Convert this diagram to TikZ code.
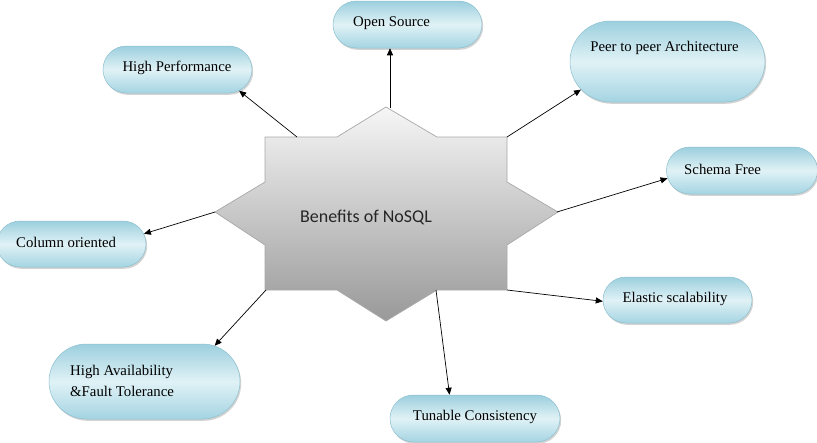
\documentclass[tikz,border=0pt]{standalone}
\usepackage{fontspec}
\setmainfont{Liberation Serif}
\newfontfamily\calibrifont{Carlito}
\usetikzlibrary{shapes.misc,shadows,arrows.meta,calc}
\definecolor{pilltop}{HTML}{9CCFDE}
\definecolor{pillmid}{HTML}{E0F2F6}
\definecolor{pillbot}{HTML}{A4D4E2}
\definecolor{pillborder}{HTML}{8CC0D0}
\definecolor{startop}{HTML}{F6F6F6}
\definecolor{starbot}{HTML}{999999}
\definecolor{starborder}{HTML}{A8A8A8}
\begin{document}
\begin{tikzpicture}[x=1pt,y=-1pt,
  pill/.style={rounded rectangle, draw=pillborder, line width=0.5pt,
    top color=pilltop, bottom color=pillbot, middle color=pillmid,
    drop shadow={shadow xshift=1.2pt, shadow yshift=-1.8pt, opacity=0.35},
    inner sep=0pt},
  lbl/.style={font=\fontsize{14.8}{21}\selectfont, inner sep=0pt, text=black},
  conn/.style={-{Triangle[length=7pt,width=6pt]}, line width=0.7pt, black}]
\useasboundingbox (0,0) rectangle (817,442);

% central star
\shade[top color=startop, bottom color=starbot, draw=starborder, line width=0.7pt]
  (386,107) -- (437,137) -- (507,137) -- (507,182) -- (558,212) -- (507,245)
  -- (507,290) -- (437,290) -- (386,321) -- (337,290) -- (265,290) -- (265,245)
  -- (215,212) -- (265,182) -- (265,137) -- (337,137) -- cycle;
\node[font=\calibrifont\fontsize{18}{20}\selectfont, text=black!85, inner sep=0pt] (center) at (366,217) {Benefits of NoSQL};

% connector start points on the star
\coordinate (shp) at (297,137);
\coordinate (sos) at (390,108);
\coordinate (spp) at (507,137);
\coordinate (ssf) at (557,212);
\coordinate (sco) at (215,212);
\coordinate (sha) at (266,290);
\coordinate (ses) at (507,290);
\coordinate (stc) at (436,290);

% boxes
\node[pill, minimum width=149pt, minimum height=47pt] (hp) at (177.5,69.5) {};
\node[pill, minimum width=149pt, minimum height=47pt] (os) at (407.5,24.5) {};
\node[pill, minimum width=195pt, minimum height=81pt] (pp) at (667.5,61.5) {};
\node[pill, minimum width=151pt, minimum height=47pt] (sf) at (742,170.5) {};
\node[pill, minimum width=149pt, minimum height=46pt] (co) at (71.5,244) {};
\node[pill, minimum width=191pt, minimum height=75pt] (ha) at (144.5,381.5) {};
\node[pill, minimum width=149pt, minimum height=46pt] (es) at (677.5,300) {};
\node[pill, minimum width=170pt, minimum height=47pt] (tc) at (475,418.5) {};

% texts
\node[lbl] (hpt) at (177,68) {High Performance};
\node[lbl, anchor=west] (ost) at (353,23) {Open Source};
\node[lbl] (ppt) at (664.5,48) {Peer to peer Architecture};
\node[lbl, anchor=west] (sft) at (684,169) {Schema Free};
\node[lbl, anchor=west] (cot) at (16,242) {Column oriented};
\node[lbl, anchor=west, align=left] (hat) at (70,380.5) {High Availability\\\&Fault Tolerance};
\node[lbl] (est) at (675,299) {Elastic scalability};
\node[lbl] (tct) at (475,417) {Tunable Consistency};

% connectors
\draw[conn] (shp) -- (hp.-19);
\draw[conn] (sos) -- (sos |- os.south);
\draw[conn] (spp) -- (pp.198);
\draw[conn] (ssf) -- (sf.186.5);
\draw[conn] (sco) -- (co.8.5);
\draw[conn] (sha) -- (ha.27.4);
\draw[conn] (ses) -- (es.181.5);
\draw[conn] (stc) -- (tc.137.9);
\end{tikzpicture}
\end{document}
